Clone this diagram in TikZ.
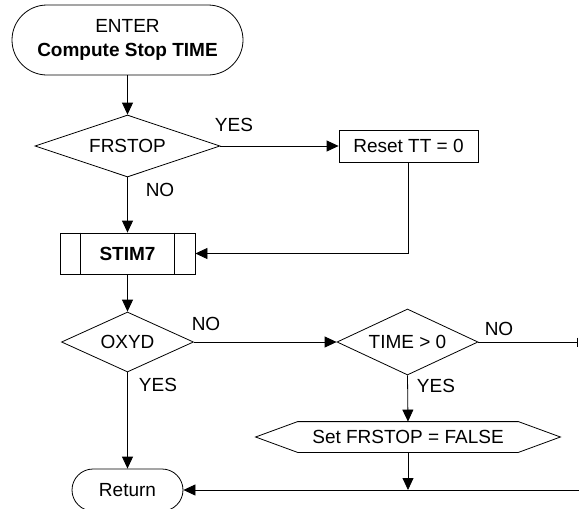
\documentclass[tikz,border=0pt]{standalone}
\usepackage{fontspec}
\setmainfont{Liberation Sans}
\usetikzlibrary{shapes.geometric,arrows.meta}
\begin{document}
\begin{tikzpicture}[x=1pt,y=-1pt,
  font=\fontsize{19}{24}\selectfont,
  line width=0.8pt,
  arr/.style={-{Triangle[length=12pt,width=11pt]}},
  term/.style={draw,rectangle,rounded corners=#1,inner sep=0pt,align=center},
  dec/.style={draw,diamond,aspect=3,inner sep=0pt},
  proc/.style={draw,rectangle,inner sep=0pt},
  lbl/.style={inner sep=0pt}]
\useasboundingbox (0,0) rectangle (579,509);
% nodes
\node[term=35pt,minimum width=231pt,minimum height=70pt] (start) at (127.5,40) {ENTER\\\textbf{Compute Stop TIME}};
\node[dec,minimum width=185pt,minimum height=62pt] (frstop) at (127.5,146) {FRSTOP};
\node[proc,minimum width=139pt,minimum height=32pt] (reset) at (408.5,146) {Reset TT = 0};
\node[proc,minimum width=135pt,minimum height=41pt,font=\fontsize{19}{24}\selectfont\bfseries] (stim) at (127.5,253.5) {STIM7};
\draw ([xshift=21pt]stim.north west) -- ([xshift=21pt]stim.south west);
\draw ([xshift=-21pt]stim.north east) -- ([xshift=-21pt]stim.south east);
\node[dec,minimum width=132pt,minimum height=60pt] (oxyd) at (127.5,342) {OXYD};
\node[dec,minimum width=141pt,minimum height=66pt] (time) at (407.5,342) {TIME > 0};
\node[minimum width=220pt,minimum height=30pt,inner sep=0pt] (hex) at (408,437) {Set FRSTOP = FALSE};
\draw (hex.north west) -- (hex.north east) -- ([xshift=42pt]hex.east) -- (hex.south east)
  -- (hex.south west) -- ([xshift=-42pt]hex.west) -- cycle;
\node[term=21pt,minimum width=111pt,minimum height=42pt] (ret) at (127.5,490) {Return};
% free ends
\coordinate (noend) at (578,342);
\coordinate (rend) at (579,490);
\coordinate (join) at (408,490);
% connectors
\draw[arr] (start.south) -- (frstop.north);
\draw[arr] (frstop.east) -- (reset.west);
\draw[arr] (frstop.south) -- (stim.north);
\draw[arr] (reset.south) |- (stim.east);
\draw[arr] (stim.south) -- (oxyd.north);
\draw[arr] (oxyd.east) -- (time.west);
\draw[-{Bar[width=9pt]}] (time.east) -- (noend);
\draw[arr] (time.south) -- (hex.north);
\draw[arr] (hex.south) -- (join);
\draw[arr] (rend) -- (ret.east);
\draw[arr] (oxyd.south) -- (ret.north);
% labels
\node[lbl] (l1) at (234,125) {YES};
\node[lbl] (l2) at (160,190) {NO};
\node[lbl] (l3) at (206,324) {NO};
\node[lbl] (l4) at (158,385) {YES};
\node[lbl] (l5) at (499,329) {NO};
\node[lbl] (l6) at (436,386) {YES};
\end{tikzpicture}
\end{document}
